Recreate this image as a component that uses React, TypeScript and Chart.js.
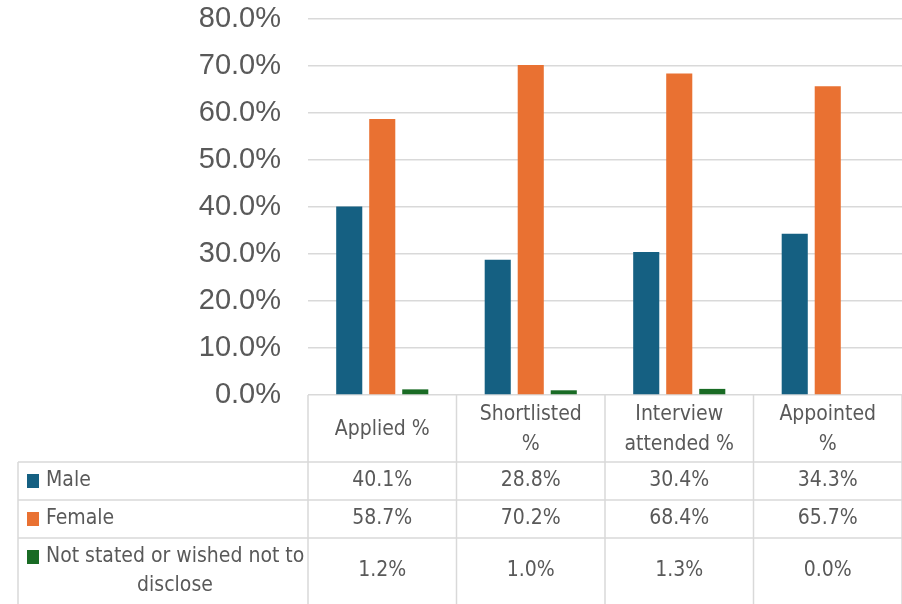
import React, { useEffect, useRef } from "react";
import { Chart, registerables } from "chart.js";

Chart.register(...registerables);

const categories: string[][] = [["Applied %"], ["Shortlisted", "%"], ["Interview", "attended %"], ["Appointed", "%"]];
const seriesNames = ["Male", "Female", "Not stated or wished not to disclose"];
const seriesLabelLines: string[][] = [["Male"], ["Female"], ["Not stated or wished not to", "disclose"]];
const maleValues = [40.1, 28.8, 30.4, 34.3];
const femaleValues = [58.7, 70.2, 68.4, 65.7];
const notStatedValues = [1.2, 1.0, 1.3, 0.0];
const seriesColors = ["#156082", "#E97132", "#196B24"];
const yMax = 80;
const yStep = 10;

const TEXT = "#595959";
const GRID = "#D9D9D9";
const TABLE_FONT = '21px "Liberation Sans Narrow", "DejaVu Sans Condensed", "Noto Sans", sans-serif';

const tablePlugin = {
  id: "dataTable",
  afterDraw(chart: any) {
    const ctx = chart.ctx as CanvasRenderingContext2D;
    const area = chart.chartArea;
    const xs = chart.scales.x;
    const H = chart.height;
    const n = categories.length;
    const headerH = 67;
    const rowHs = [38, 38, 66];
    const tableLeft = 18;
    const top = area.bottom;
    const headerBottom = top + headerH;
    const centers = categories.map((_, i) => xs.getPixelForValue(i));
    const bounds: number[] = [area.left];
    for (let i = 0; i < n - 1; i++) bounds.push((centers[i] + centers[i + 1]) / 2);
    bounds.push(area.right);

    ctx.save();
    ctx.strokeStyle = GRID;
    ctx.lineWidth = 1.5;
    ctx.beginPath();
    bounds.forEach((b) => {
      ctx.moveTo(b, top);
      ctx.lineTo(b, H);
    });
    ctx.moveTo(tableLeft, headerBottom);
    ctx.lineTo(tableLeft, H);
    let y = headerBottom;
    ctx.moveTo(tableLeft, y);
    ctx.lineTo(area.right, y);
    for (let r = 0; r < rowHs.length - 1; r++) {
      y += rowHs[r];
      ctx.moveTo(tableLeft, y);
      ctx.lineTo(area.right, y);
    }
    ctx.stroke();

    ctx.fillStyle = TEXT;
    ctx.font = TABLE_FONT;
    ctx.textAlign = "center";
    ctx.textBaseline = "middle";
    const lineH = 30;
    categories.forEach((lines, i) => {
      const cy = top + headerH / 2 + 1;
      const start = cy - ((lines.length - 1) * lineH) / 2;
      lines.forEach((t, k) => ctx.fillText(t, centers[i], start + k * lineH));
    });

    const allValues = [maleValues, femaleValues, notStatedValues];
    let rowTop = headerBottom;
    allValues.forEach((vals, r) => {
      const cy = rowTop + rowHs[r] / 2;
      ctx.fillStyle = TEXT;
      ctx.textAlign = "center";
      vals.forEach((v, i) => ctx.fillText(v.toFixed(1) + "%", centers[i], cy));
      const lines = seriesLabelLines[r];
      const firstY = lines.length > 1 ? rowTop + 19 : cy;
      ctx.fillStyle = seriesColors[r];
      ctx.fillRect(27, firstY - 7, 12, 14);
      ctx.fillStyle = TEXT;
      lines.forEach((t, k) => {
        if (k === 0) {
          ctx.textAlign = "left";
          ctx.fillText(t, 46, firstY);
        } else {
          ctx.textAlign = "center";
          ctx.fillText(t, (tableLeft + area.left) / 2 + 12, firstY + k * 29);
        }
      });
      rowTop += rowHs[r];
    });
    ctx.restore();
  },
};

export default function App() {
  const ref = useRef<HTMLCanvasElement>(null);
  useEffect(() => {
    document.body.style.margin = "0";
    const canvas = ref.current!;
    const chart = new Chart(canvas, {
      type: "bar",
      data: {
        labels: categories,
        datasets: [
          { label: seriesNames[0], data: maleValues, backgroundColor: seriesColors[0] },
          { label: seriesNames[1], data: femaleValues, backgroundColor: seriesColors[1] },
          { label: seriesNames[2], data: notStatedValues, backgroundColor: seriesColors[2] },
        ],
      },
      options: {
        animation: false,
        responsive: false,
        devicePixelRatio: 1,
        datasets: { bar: { categoryPercentage: 0.667, barPercentage: 0.79 } },
        layout: { padding: { top: 19, bottom: 209, left: 0, right: 0 } },
        plugins: { legend: { display: false }, tooltip: { enabled: false } },
        scales: {
          x: { display: false, offset: true },
          y: {
            min: 0,
            max: yMax,
            afterFit: (s: any) => {
              s.width = 308;
            },
            border: { display: false },
            grid: { color: GRID, lineWidth: 1.5, drawTicks: true, tickLength: 27, tickColor: "rgba(0,0,0,0)" },
            ticks: {
              stepSize: yStep,
              padding: 0,
              color: TEXT,
              font: { family: '"Liberation Sans", Arial, sans-serif', size: 29 },
              callback: (v: any) => Number(v).toFixed(1) + "%",
            },
          },
        },
      },
      plugins: [tablePlugin],
    });
    return () => chart.destroy();
  }, []);
  return <canvas ref={ref} width={902} height={604} style={{ display: "block" }} />;
}
